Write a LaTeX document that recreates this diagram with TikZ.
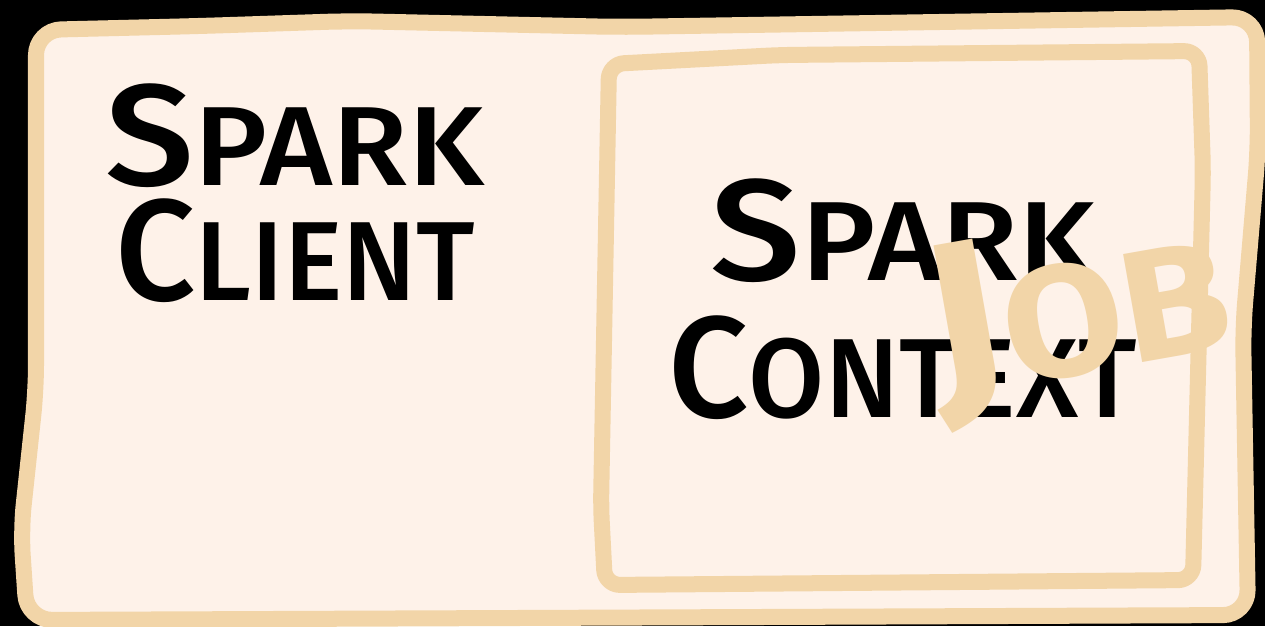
\documentclass[tikz,border=0pt]{standalone}
\usepackage{fontspec}
\setmainfont{Fira Sans}[UprightFont={* Medium}, BoldFont={* Bold}]
\usepackage{graphicx}
\usepackage{tikz}
\usetikzlibrary{calc}
\definecolor{Rim}{HTML}{F2D5A8}
\definecolor{Paper}{HTML}{FEF2E9}
\def\Wth{0.16cm}
\def\BigSz{41}
\def\SmallSz{32}
\tikzset{
    rim/.style={
        draw=Rim, line width=\Wth,
        line cap=round, line join=round,
        rounded corners=#1
    },
    hand/.style={inner sep=0pt, anchor=base west, text=black},
    jobtext/.style={inner sep=0pt, text=Rim, font=\bfseries}
}
\newcommand{\HandSC}[3][1]{%
    \scalebox{#1}[1]{%
    {\fontsize{\BigSz}{\BigSz}\selectfont #2}%
    {\fontsize{\SmallSz}{\SmallSz}\selectfont #3}}%
}

\begin{document}
\begin{tikzpicture}[x=0.01cm, y=-0.01cm]
    \fill[black] (0,0) rectangle (1265,626);
    \useasboundingbox (0,0) rectangle (1265,626);
    % outer sheet
    \coordinate (P1) at (350, 21);
    \coordinate (P2) at (620, 27);
    \coordinate (P3) at (1257, 17);
    \coordinate (P4) at (1258, 150);
    \coordinate (P5) at (1243, 328);
    \coordinate (P6) at (1248, 615);
    \coordinate (P7) at (27, 620);
    \coordinate (P8) at (21, 530);
    \coordinate (P9) at (36, 390);
    \coordinate (P10) at (36, 30);
    \coordinate (P11) at (200, 26);
    % inner box
    \coordinate (Q1) at (780, 55);
    \coordinate (Q2) at (1199, 51);
    \coordinate (Q3) at (1203, 170);
    \coordinate (Q4) at (1193, 580);
    \coordinate (Q5) at (605, 585);
    \coordinate (Q6) at (601, 507);
    \coordinate (Q7) at (609, 64);

    \def\OUTER{
        (P1)--(P2)--(P3)--(P4)--(P5)--(P6)--(P7)--(P8)--(P9)--(P10)--(P11)--cycle
    }
    \def\INNER{
        (Q1)--(Q2)--(Q3)--(Q4)--(Q5)--(Q6)--(Q7)--cycle
    }
    \filldraw[rim=0.25cm, fill=Paper] \OUTER;
    \draw[rim=0.15cm] \INNER;

    \node[hand] (clientA) at (105, 185) {\HandSC[1.1]{S}{PARK}};
    \node[hand] (clientB) at (115, 300) {\HandSC[0.98]{C}{LIENT}};
    \node[hand] (contextA) at (710, 280) {\HandSC[1.12]{S}{PARK}};
    \node[hand] (contextB) at (668, 417) {\HandSC[0.98]{C}{ONTEXT}};

    % scribbled over the context
    \node[jobtext, rotate=10] (job) at (1078, 316)
        {\scalebox{1.1}[1]{{\fontsize{62}{62}\selectfont J}{\fontsize{45}{45}\selectfont OB}}};
\end{tikzpicture}
\end{document}
